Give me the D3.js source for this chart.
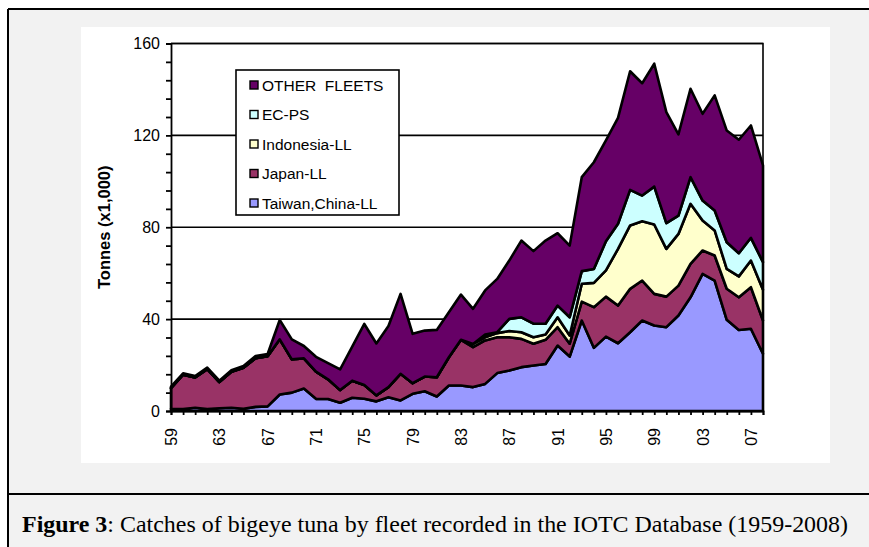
<!DOCTYPE html>
<html>
<head>
<meta charset="utf-8">
<script src="https://cdn.jsdelivr.net/npm/d3@7"></script>
<style>
  html, body { margin: 0; padding: 0; background: #fff; }
  svg { display: block; }
  text { font-family: "Liberation Sans", Arial, sans-serif; fill: #000; }
  .caption { font-family: "Liberation Serif", "Times New Roman", serif; }
</style>
</head>
<body>
<svg id="chart"></svg>
<script>
/* ===============================
   Data
================================ */

const years = [
  1959, 1960, 1961, 1962, 1963, 1964, 1965, 1966, 1967, 1968,
  1969, 1970, 1971, 1972, 1973, 1974, 1975, 1976, 1977, 1978,
  1979, 1980, 1981, 1982, 1983, 1984, 1985, 1986, 1987, 1988,
  1989, 1990, 1991, 1992, 1993, 1994, 1995, 1996, 1997, 1998,
  1999, 2000, 2001, 2002, 2003, 2004, 2005, 2006, 2007, 2008
];

const taiwanLL = [
  1.0, 0.8, 1.4, 0.8, 1.2, 1.4, 1.0, 1.8, 2.0, 7.2,
  8.0, 9.8, 5.3, 5.2, 3.6, 5.8, 5.3, 4.2, 6.0, 4.6,
  7.5, 8.6, 6.3, 11.1, 11.1, 10.4, 11.8, 16.5, 17.6, 19.1,
  19.8, 20.5, 28.5, 23.7, 39.4, 27.5, 32.4, 29.5, 34.3, 39.4,
  37.2, 36.5, 41.6, 49.5, 59.7, 56.8, 39.7, 35.3, 35.8, 24.9
];

const japanLL = [
  9.0, 15.0, 13.2, 17.4, 11.4, 15.7, 17.8, 21.2, 21.8, 24.0,
  14.5, 13.1, 11.8, 8.6, 5.5, 7.4, 6.0, 2.6, 4.4, 11.6,
  4.6, 6.4, 8.4, 12.3, 19.9, 17.4, 18.9, 15.6, 14.5, 12.3,
  9.5, 10.5, 8.0, 5.6, 8.2, 17.7, 17.4, 16.4, 18.9, 17.4,
  13.8, 13.3, 13.0, 14.6, 10.2, 10.9, 13.5, 14.2, 18.1, 14.5
];

const indonesiaLL = [
  0, 0, 0, 0, 0, 0, 0, 0, 0, 0,
  0, 0, 0, 0, 0, 0, 0, 0, 0, 0,
  0, 0, 0, 0, 0, 1.4, 1.4, 1.8, 2.7, 2.9,
  2.8, 2.3, 4.3, 3.6, 7.8, 10.6, 11.4, 24.7, 27.6, 25.8,
  30.2, 20.8, 22.5, 26.1, 13.0, 10.9, 8.7, 9.1, 11.6, 13.4
];

const ecPS = [
  0, 0, 0, 0, 0, 0, 0, 0, 0, 0,
  0, 0, 0, 0, 0, 0, 0, 0, 0, 0,
  0, 0, 0, 0, 0, 0, 1.2, 0.4, 5.3, 6.5,
  5.9, 4.7, 5.1, 7.9, 5.5, 6.0, 12.7, 10.9, 15.5, 11.2,
  16.5, 11.2, 8.0, 11.6, 8.7, 8.7, 11.6, 10.1, 9.9, 12.0
];

const otherFleets = [
  0.6, 0.6, 0.6, 0.7, 0.6, 0.7, 0.8, 0.9, 1.0, 8.4,
  8.7, 5.4, 6.5, 7.0, 9.0, 14.8, 26.6, 22.6, 26.6, 34.8,
  21.5, 20.0, 20.6, 19.6, 19.7, 15.3, 19.2, 23.2, 25.4, 33.4,
  31.6, 36.2, 31.5, 31.2, 40.9, 46.5, 43.9, 46.1, 51.6, 48.9,
  53.5, 48.3, 35.3, 38.5, 37.8, 50.1, 48.6, 49.4, 48.9, 42.1
];

const seriesKeys   = ["taiwan", "japan", "indonesia", "ec", "other"];
const seriesNames  = ["Taiwan,China-LL", "Japan-LL", "Indonesia-LL", "EC-PS", "OTHER  FLEETS"];
const seriesColors = ["#9999ff", "#993366", "#ffffcc", "#ccffff", "#660066"];

const xLabelYears = [1959, 1963, 1967, 1971, 1975, 1979, 1983, 1987, 1991, 1995, 1999, 2003, 2007];
const xLabels     = ["59", "63", "67", "71", "75", "79", "83", "87", "91", "95", "99", "03", "07"];
const yMajorTicks = [0, 40, 80, 120, 160];
const yMinorTicks = [8, 16, 24, 32, 48, 56, 64, 72, 88, 96, 104, 112, 128, 136, 144, 152];

/* ===============================
   Layout
================================ */

const W = 869, H = 547;
const plot = { left: 171, right: 763, top: 43.5, bottom: 411 };

const svg = d3.select("#chart").attr("width", W).attr("height", H);

// grey page panel with frame lines
svg.append("rect").attr("x", 8).attr("y", 9).attr("width", W - 8).attr("height", H - 9)
  .attr("fill", "#f2f2f2");
svg.append("rect").attr("x", 81).attr("y", 27).attr("width", 749).attr("height", 436)
  .attr("fill", "#fff");

const frame = [[8, 9, 8, H], [8, 9, W, 9], [8, 494, W, 494]];
svg.selectAll(".frame").data(frame).enter().append("line")
  .attr("class", "frame")
  .attr("x1", d => d[0]).attr("y1", d => d[1])
  .attr("x2", d => d[2]).attr("y2", d => d[3])
  .attr("stroke", "#000").attr("stroke-width", 2);

/* ===============================
   Scales
================================ */

const x = d3.scaleLinear().domain([years[0], years[years.length - 1]]).range([plot.left, plot.right]);
const y = d3.scaleLinear().domain([0, 160]).range([plot.bottom, plot.top]);

const table = years.map((yr, i) => ({
  year: yr,
  taiwan: taiwanLL[i],
  japan: japanLL[i],
  indonesia: indonesiaLL[i],
  ec: ecPS[i],
  other: otherFleets[i]
}));

const stacked = d3.stack().keys(seriesKeys)(table);

/* ===============================
   Gridlines
================================ */

svg.selectAll(".grid").data(yMajorTicks.slice(1)).enter().append("line")
  .attr("class", "grid")
  .attr("x1", plot.left).attr("x2", plot.right)
  .attr("y1", d => y(d)).attr("y2", d => y(d))
  .attr("stroke", "#000").attr("stroke-width", 1.6);

/* ===============================
   Areas
================================ */

const area = d3.area()
  .x(d => x(d.data.year))
  .y0(d => y(d[0]))
  .y1(d => y(d[1]));

svg.selectAll(".layer").data(stacked).enter().append("path")
  .attr("class", "layer")
  .attr("d", area)
  .attr("fill", (d, i) => seriesColors[i])
  .attr("stroke", "#000")
  .attr("stroke-width", 2.6)
  .attr("stroke-linejoin", "round");

// plot border (top + right)
svg.append("path")
  .attr("d", `M${plot.left},${plot.top}H${plot.right}V${plot.bottom}`)
  .attr("fill", "none").attr("stroke", "#000").attr("stroke-width", 1.6);

/* ===============================
   Axes
================================ */

const yAxis = svg.append("g")
  .attr("transform", `translate(${plot.left},0)`)
  .call(d3.axisLeft(y).tickValues(yMajorTicks).tickSize(5).tickPadding(6));

svg.append("g")
  .attr("transform", `translate(${plot.left},0)`)
  .call(d3.axisLeft(y).tickValues(yMinorTicks).tickSize(5).tickFormat(""))
  .select(".domain").remove();

yAxis.selectAll("text").style("font-size", "16px");

svg.append("g")
  .attr("transform", `translate(0,${plot.bottom})`)
  .call(d3.axisBottom(x).tickValues(years).tickSize(4).tickFormat(""));

svg.append("g")
  .attr("transform", `translate(0,${plot.bottom})`)
  .call(d3.axisBottom(x).tickValues(xLabelYears).tickSize(0)
    .tickFormat((d, i) => xLabels[i]))
  .call(g => g.select(".domain").remove())
  .selectAll("text")
  .attr("transform", "rotate(-90)")
  .attr("text-anchor", "end")
  .attr("x", -17).attr("y", 0).attr("dy", "0.35em")
  .style("font-size", "16px");

svg.selectAll(".domain, .tick line").attr("stroke", "#000").attr("stroke-width", 1.8);

svg.append("text")
  .attr("transform", `translate(110,${(plot.top + plot.bottom) / 2}) rotate(-90)`)
  .attr("text-anchor", "middle")
  .style("font-size", "16.5px").style("font-weight", "bold")
  .text("Tonnes (x1,000)");

/* ===============================
   Legend
================================ */

const legend = svg.append("g");
legend.append("rect")
  .attr("x", 236).attr("y", 70).attr("width", 163).attr("height", 145)
  .attr("fill", "#fff").attr("stroke", "#000").attr("stroke-width", 1.6);

const legendOrder = [4, 3, 2, 1, 0];
const item = legend.selectAll(".item").data(legendOrder).enter().append("g")
  .attr("class", "item")
  .attr("transform", (d, i) => `translate(250,${85 + i * 29.5})`);

item.append("rect")
  .attr("x", 0).attr("y", -4).attr("width", 8).attr("height", 8)
  .attr("fill", d => seriesColors[d]).attr("stroke", "#000").attr("stroke-width", 1.4);

item.append("text")
  .attr("x", 12).attr("dy", "0.36em")
  .attr("xml:space", "preserve")
  .style("font-size", "15.5px")
  .style("white-space", "pre")
  .text(d => seriesNames[d]);

/* ===============================
   Caption
================================ */

const cap = svg.append("text")
  .attr("class", "caption")
  .attr("x", 22).attr("y", 532)
  .attr("textLength", 826).attr("lengthAdjust", "spacingAndGlyphs")
  .style("font-size", "22.5px");
cap.append("tspan").style("font-weight", "bold").text("Figure 3");
cap.append("tspan").text(": Catches of bigeye tuna by fleet recorded in the IOTC Database (1959-2008)");
</script>
</body>
</html>
